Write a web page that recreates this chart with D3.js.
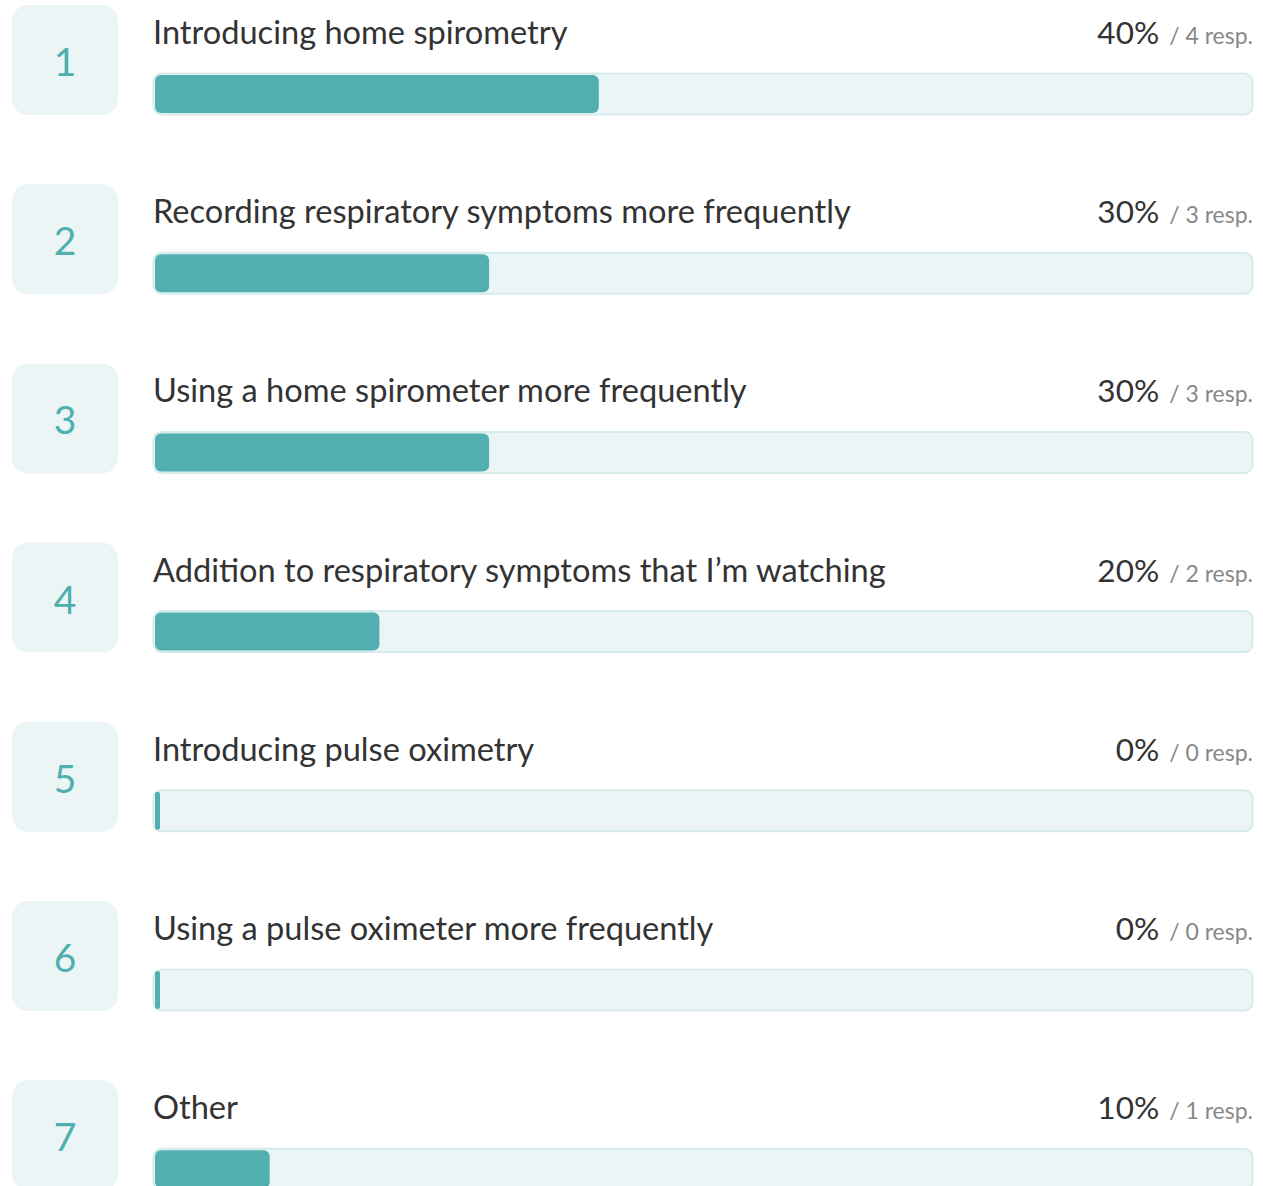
<!DOCTYPE html>
<html>
<head>
<meta charset="utf-8">
<script src="https://cdn.jsdelivr.net/npm/d3@7"></script>
<style>
    body { margin: 0; background: #fff; }
    #chart { width: 1263px; height: 1186px; overflow: hidden; }
    text { font-family: "Source Sans Pro", Lato, "Open Sans", sans-serif; }
</style>
</head>
<body>
<div id="chart"></div>
<script>
// answer options, share of respondents and counts
let labels = ["Introducing home spirometry", "Recording respiratory symptoms more frequently",
    "Using a home spirometer more frequently", "Addition to respiratory symptoms that I\u2019m watching",
    "Introducing pulse oximetry", "Using a pulse oximeter more frequently", "Other"];
let percents = [40, 30, 30, 20, 0, 0, 10];
let responses = [4, 3, 3, 2, 0, 0, 1];

let width = 1263, height = 1186;

let svg = d3.select("#chart").append("svg")
    .attr("width", width)
    .attr("height", height);

// one band per row
let y = d3.scaleBand()
    .domain(d3.range(labels.length))
    .range([5, 5 + 179.2 * labels.length])
    .paddingInner(0);

let x = d3.scaleLinear()
    .domain([0, 100])
    .range([5, 1102]);

let rows = svg.selectAll(".row")
    .data(labels)
    .enter().append("g")
    .attr("class", "row")
    .attr("transform", (d, i) => `translate(0, ${y(i)})`);

// number box
rows.append("rect")
    .attr("x", 12)
    .attr("y", 0)
    .attr("width", 106)
    .attr("height", 110)
    .attr("rx", 16)
    .attr("fill", "#ebf5f6");

rows.append("text")
    .attr("x", 65)
    .attr("y", 71)
    .attr("text-anchor", "middle")
    .attr("fill", "#4fafae")
    .style("font-size", "39px")
    .text((d, i) => i + 1);

// label
rows.append("text")
    .attr("x", 153)
    .attr("y", 39)
    .attr("fill", "#333")
    .style("font-size", "32.6px")
    .text(d => d);

// percent and count, right aligned
let right = rows.append("text")
    .attr("x", 1253)
    .attr("y", 39)
    .attr("text-anchor", "end");

right.append("tspan")
    .attr("fill", "#333")
    .style("font-size", "31.5px")
    .text((d, i) => percents[i] + "%");

right.append("tspan")
    .attr("fill", "#888")
    .style("font-size", "23px")
    .attr("dx", 10)
    .text((d, i) => "/ " + responses[i] + " resp.");

// track
rows.append("rect")
    .attr("x", 153.5)
    .attr("y", 68.5)
    .attr("width", 1099)
    .attr("height", 41)
    .attr("rx", 8)
    .attr("fill", "#ebf5f6")
    .attr("stroke", "#d6ecec")
    .attr("stroke-width", 2);

// filled part
rows.append("rect")
    .attr("x", 155)
    .attr("y", 70)
    .attr("width", (d, i) => x(percents[i]))
    .attr("height", 38)
    .attr("rx", (d, i) => Math.min(6, x(percents[i]) / 2))
    .attr("fill", "#51b0af");
</script>
</body>
</html>
